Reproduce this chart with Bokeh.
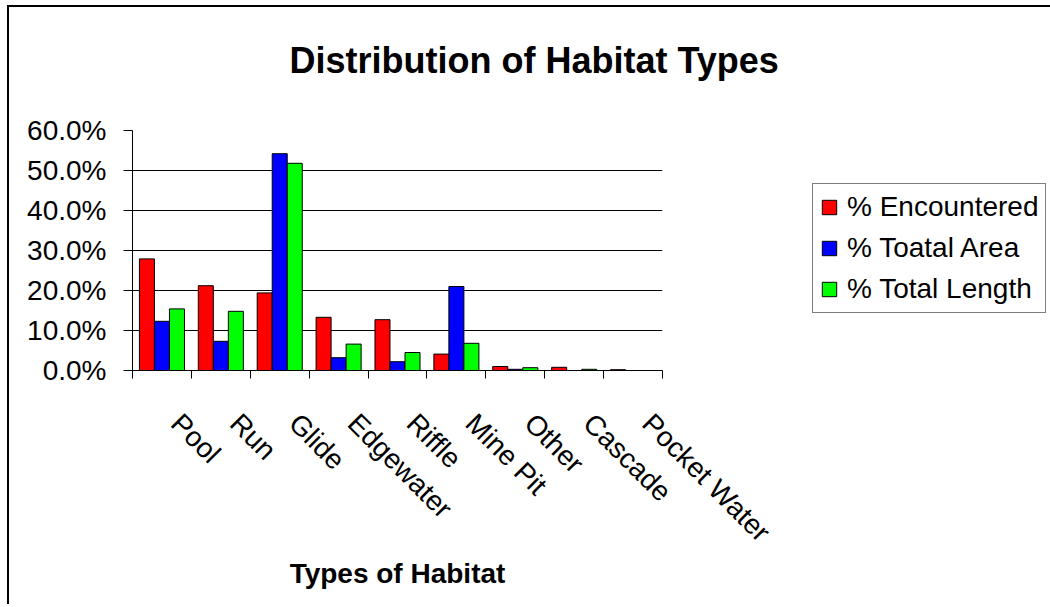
import math
from bokeh.plotting import figure
from bokeh.models import (ColumnDataSource, Range1d, LinearAxis, FixedTicker,
                          NumeralTickFormatter, Legend, LegendItem, Title)
from bokeh.embed import file_html
from bokeh.resources import INLINE

# ---- data (fractions) ----
habitats = ["Pool", "Run", "Glide", "Edgewater", "Riffle", "Mine Pit",
            "Other", "Cascade", "Pocket Water"]
pct_encountered = [0.279, 0.212, 0.194, 0.133, 0.127, 0.041, 0.010, 0.008, 0.002]
pct_total_area = [0.123, 0.073, 0.542, 0.032, 0.022, 0.210, 0.003, 0.0, 0.0]
pct_total_length = [0.154, 0.148, 0.518, 0.066, 0.045, 0.068, 0.007, 0.003, 0.0]
series_names = ["% Encountered", "% Toatal Area", "% Total Length"]
series_values = [pct_encountered, pct_total_area, pct_total_length]
series_colors = ["#FF0000", "#0000FF", "#00FF00"]
y_ticks = [0.0, 0.1, 0.2, 0.3, 0.4, 0.5, 0.6]

FONT = "Liberation Sans"

p = figure(frame_width=530, frame_height=240, output_backend="svg", toolbar_location=None,
           x_range=Range1d(0, len(habitats)), y_range=Range1d(0, 0.6),
           x_axis_type=None, min_border_left=123, min_border_top=123,
           min_border_bottom=234, min_border_right=10)
p.styles = {"border-left": "2px solid #000000", "border-top": "2px solid #000000",
            "margin-left": "7px", "margin-top": "5px"}
p.outline_line_color = None
p.background_fill_color = "white"
p.border_fill_color = "white"

# ---- bars ----
bar_w = 0.255
offsets = [-bar_w, 0.0, bar_w]
items = []
for name, vals, col, off in zip(series_names, series_values, series_colors, offsets):
    xs, ys = [], []
    for i, v in enumerate(vals):
        if v > 0:
            xs.append(i + 0.5 + off)
            ys.append(v)
    src = ColumnDataSource(dict(x=xs, top=ys))
    r = p.vbar(x="x", top="top", bottom=0, width=bar_w, source=src,
               fill_color=col, line_color="black", line_width=1)
    items.append(LegendItem(label=name, renderers=[r]))

# ---- y axis ----
yax = p.yaxis[0]
yax.ticker = FixedTicker(ticks=y_ticks)
yax.formatter = NumeralTickFormatter(format="0.0%")
yax.major_label_text_font = FONT
yax.major_label_text_font_size = "28px"
yax.major_label_text_color = "black"
yax.major_label_standoff = 17
yax.major_tick_out = 9
yax.major_tick_in = 0
yax.minor_tick_line_color = None
yax.axis_line_color = "black"
yax.major_tick_line_color = "black"

p.ygrid.ticker = FixedTicker(ticks=y_ticks)
p.ygrid.grid_line_color = "black"
p.ygrid.grid_line_width = 1
p.xgrid.grid_line_color = None

# ---- x axis: labels near category centres, tick marks at boundaries ----
label_shift = 0.24
label_pos = [i + 0.5 + label_shift for i in range(len(habitats))]
boundaries = list(range(len(habitats) + 1))
xl = LinearAxis(ticker=FixedTicker(ticks=label_pos, minor_ticks=boundaries),
                major_label_overrides={c: h for c, h in zip(label_pos, habitats)},
                major_label_orientation=-math.pi / 4,
                major_label_text_font=FONT, major_label_text_font_size="28px",
                major_label_text_color="black", major_label_standoff=40,
                axis_line_color="black", major_tick_line_color=None,
                major_tick_out=0, major_tick_in=0,
                minor_tick_line_color="black", minor_tick_out=8, minor_tick_in=0,
                axis_label="Types of Habitat", axis_label_text_font=FONT,
                axis_label_text_font_style="bold", axis_label_text_font_size="28px",
                axis_label_text_color="black", axis_label_standoff=-4)
p.add_layout(xl, "below")

# ---- invisible spacer between frame and chart title (added first = nearest frame) ----
spacer = LinearAxis(ticker=FixedTicker(ticks=[0]), major_label_overrides={0: ""},
                    axis_line_color=None, major_tick_line_color="white",
                    minor_tick_line_color=None, major_tick_out=45, major_tick_in=0,
                    minor_tick_out=0, major_label_standoff=0)
p.add_layout(spacer, "above")

# ---- chart title ----
ttl = Title(text="Distribution of Habitat Types", align="left", offset=157,
            text_font=FONT, text_font_style="bold", text_font_size="36px",
            text_color="black", standoff=10)
p.add_layout(ttl, "above")

# ---- legend ----
legend = Legend(items=items, location=(150, 57), orientation="vertical",
                label_text_font=FONT, label_text_font_size="28px",
                label_text_color="black", glyph_width=18, glyph_height=18,
                label_height=32, label_standoff=9, spacing=9, padding=7,
                margin=0, border_line_color="black", border_line_width=1,
                background_fill_color="white", background_fill_alpha=1.0)
p.add_layout(legend, "right")

open("out.html", "w").write(file_html(p, INLINE))
